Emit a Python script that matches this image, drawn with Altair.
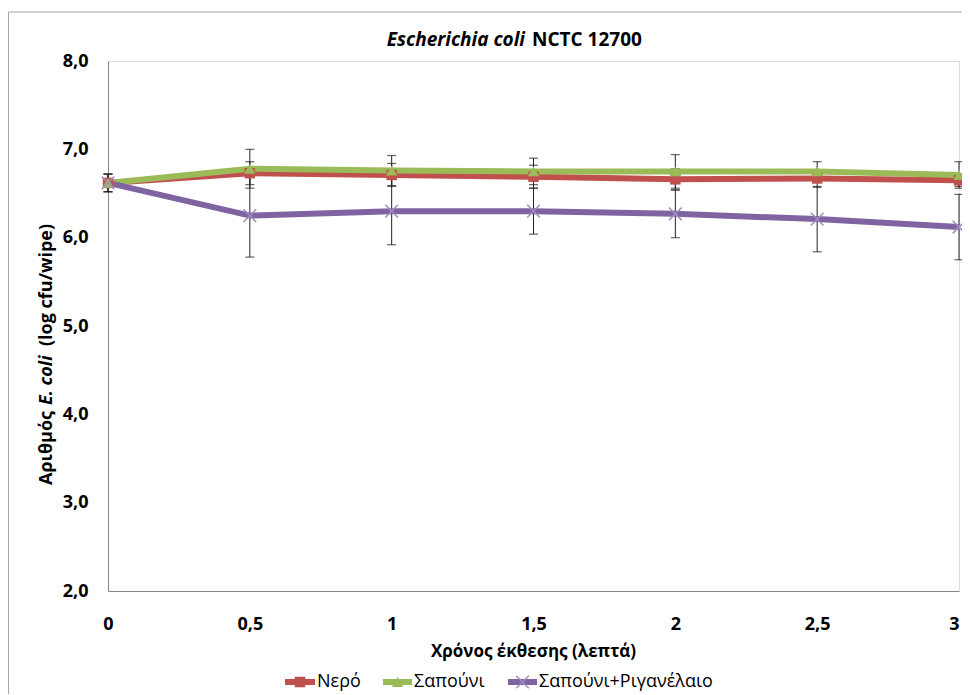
import altair as alt
import pandas as pd

# ---- data ----
times = [0, 0.5, 1, 1.5, 2, 2.5, 3]
series_names = ["Νερό", "Σαπούνι", "Σαπούνι+Ριγανέλαιο"]
nero = [6.62, 6.73, 6.71, 6.69, 6.66, 6.67, 6.65]
nero_err = [0.10, 0.13, 0.13, 0.13, 0.12, 0.10, 0.07]
sapouni = [6.62, 6.78, 6.76, 6.75, 6.75, 6.75, 6.71]
sapouni_err = [0.10, 0.22, 0.17, 0.15, 0.19, 0.11, 0.15]
rigan = [6.62, 6.25, 6.30, 6.30, 6.27, 6.21, 6.12]
rigan_err = [0.10, 0.47, 0.38, 0.26, 0.27, 0.37, 0.37]
y_ticks = [2, 3, 4, 5, 6, 7, 8]
x_ticks = [0, 0.5, 1, 1.5, 2, 2.5, 3]
title_parts = ["Escherichia coli", "NCTC 12700"]
y_title_parts = ["Αριθμός", "E. coli", "(log cfu/wipe)"]
x_title = "Χρόνος έκθεσης (λεπτά)"

colors = ["#C0504D", "#9BBB59", "#8064A2"]
FONT = "Open Sans"
W, H = 851, 530

rows = []
for name, vals, errs in zip(series_names, [nero, sapouni, rigan], [nero_err, sapouni_err, rigan_err]):
    for t, v, e in zip(times, vals, errs):
        rows.append({"series": name, "t": t, "v": v, "lo": v - e, "hi": v + e})
df = pd.DataFrame(rows)

xs = alt.Scale(domain=[0, 3], nice=False)
ys = alt.Scale(domain=[2, 8], nice=False)

x_enc = alt.X("t:Q", scale=xs, axis=alt.Axis(
    values=x_ticks, title="", ticks=False, grid=False, labelPadding=24,
    labelExpr="replace(toString(datum.value), '.', ',')",
    labelAlign={"expr": "datum.value == 3 ? 'right' : 'center'"},
    labelFont=FONT, labelFontSize=18, labelFontWeight="bold", labelColor="#000000",
    domainColor="#868686", labelFlush=False))
y_enc = alt.Y("v:Q", scale=ys, axis=alt.Axis(
    values=y_ticks, title="", ticks=False, grid=False, labelPadding=20,
    labelExpr="replace(format(datum.value, '.1f'), '.', ',')",
    labelFont=FONT, labelFontSize=18, labelFontWeight="bold", labelColor="#000000",
    domainColor="#868686"))

base = alt.Chart(df)
one = alt.Chart(pd.DataFrame({"a": [0]}))

layers = []

# chart frame (left and top edges)
layers.append(one.mark_rule(color="#A6A6A6", strokeWidth=1).encode(
    x=alt.value(-99.5), y=alt.value(-49), y2=alt.value(640)))
layers.append(one.mark_rule(color="#A6A6A6", strokeWidth=1).encode(
    x=alt.value(-99.5), x2=alt.value(870), y=alt.value(-49)))

# axes holder
layers.append(base.mark_point(opacity=0).encode(x=x_enc, y=y_enc))

# error bars
layers.append(base.mark_rule(color="#222222", strokeWidth=1).encode(
    x=alt.X("t:Q", scale=xs), y=alt.Y("lo:Q", scale=ys), y2="hi:Q"))
layers.append(base.mark_tick(color="#222222", orient="horizontal", size=9, thickness=1.2).encode(
    x=alt.X("t:Q", scale=xs), y=alt.Y("lo:Q", scale=ys)))
layers.append(base.mark_tick(color="#222222", orient="horizontal", size=9, thickness=1.2).encode(
    x=alt.X("t:Q", scale=xs), y=alt.Y("hi:Q", scale=ys)))

xpath = "M-1,-1L1,1M-1,1L1,-1"
shapes = ["square", "triangle-up", xpath]
sizes = [110, 130, 160]
for name, col, shp, sz in zip(series_names, colors, shapes, sizes):
    sub = base.transform_filter(alt.datum.series == name)
    layers.append(sub.mark_line(color=col, strokeWidth=6).encode(
        x=alt.X("t:Q", scale=xs), y=alt.Y("v:Q", scale=ys)))
for name, col, shp, sz in zip(series_names, colors, shapes, sizes):
    sub = base.transform_filter(alt.datum.series == name)
    if shp == xpath:
        layers.append(sub.mark_point(shape=shp, size=sz, filled=False, color="#9F8CC4",
                                     strokeWidth=1.5, opacity=1).encode(
            x=alt.X("t:Q", scale=xs), y=alt.Y("v:Q", scale=ys)))
    else:
        layers.append(sub.mark_point(shape=shp, size=sz, filled=True, color=col, opacity=1).encode(
            x=alt.X("t:Q", scale=xs), y=alt.Y("v:Q", scale=ys)))

# title
layers.append(one.mark_text(font=FONT, fontSize=19, fontWeight="bold", fontStyle="italic",
                            align="right", baseline="alphabetic", color="#000000").encode(
    x=alt.value(417), y=alt.value(-15), text=alt.value(title_parts[0])))
layers.append(one.mark_text(font=FONT, fontSize=19, fontWeight="bold",
                            align="left", baseline="alphabetic", color="#000000").encode(
    x=alt.value(424), y=alt.value(-15), text=alt.value(title_parts[1])))

# y title (rotated, three parts)
yt_style = dict(font=FONT, fontSize=18, fontWeight="bold", angle=270, align="left",
                baseline="middle", color="#000000")
layers.append(one.mark_text(**yt_style).encode(
    x=alt.value(-61), y=alt.value(424), text=alt.value(y_title_parts[0])))
layers.append(one.mark_text(fontStyle="italic", **yt_style).encode(
    x=alt.value(-61), y=alt.value(344), text=alt.value(y_title_parts[1])))
layers.append(one.mark_text(**yt_style).encode(
    x=alt.value(-61), y=alt.value(285), text=alt.value(y_title_parts[2])))

# x title
layers.append(one.mark_text(font=FONT, fontSize=17, fontWeight="bold", align="center",
                            baseline="middle", color="#000000").encode(
    x=alt.value(W / 2), y=alt.value(591), text=alt.value(x_title)))

# legend
leg_line = [(177, 207), (275, 304), (400, 429)]
leg_y = 621
for (x1, x2), name, col, shp, sz in zip(leg_line, series_names, colors, shapes, sizes):
    layers.append(one.mark_rule(color=col, strokeWidth=6).encode(
        x=alt.value(x1), x2=alt.value(x2), y=alt.value(leg_y)))
    cx = (x1 + x2) / 2
    if shp == xpath:
        layers.append(one.mark_point(shape=shp, size=sz, filled=False, color="#9F8CC4",
                                     strokeWidth=1.5, opacity=1).encode(
            x=alt.value(cx), y=alt.value(leg_y)))
    else:
        layers.append(one.mark_point(shape=shp, size=sz, filled=True, color=col, opacity=1).encode(
            x=alt.value(cx), y=alt.value(leg_y)))
    layers.append(one.mark_text(font=FONT, fontSize=18, align="left", baseline="middle",
                                color="#000000").encode(
        x=alt.value(x2 + 2), y=alt.value(leg_y), text=alt.value(name)))

chart = alt.layer(*layers).properties(
    width=W, height=H,
    autosize=alt.AutoSizeParams(type="none"),
    padding={"left": 100, "top": 53, "right": 3, "bottom": 103},
).configure_view(stroke=None).configure(background="#FFFFFF")

chart.save("out.html", embed_options={"renderer": "svg", "actions": False})
